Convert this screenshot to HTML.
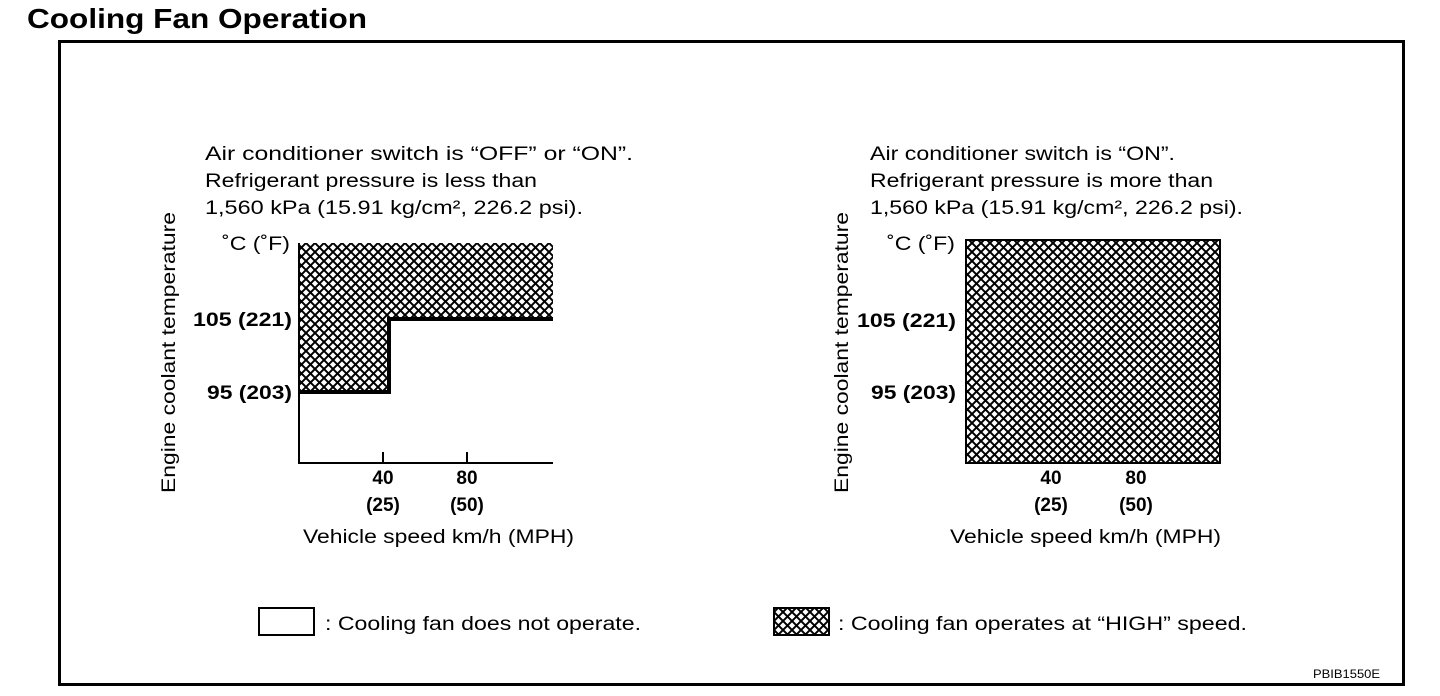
<!DOCTYPE html>
<html><head><style>
body{margin:0;background:#fff;width:1440px;height:696px;overflow:hidden}
svg{display:block}
text{font-family:"Liberation Sans",sans-serif;fill:#000}
</style></head><body>
<svg width="1440" height="696" viewBox="0 0 1440 696">
<defs>
<pattern id="h" width="9" height="9" patternUnits="userSpaceOnUse">
<rect width="9" height="9" fill="#fff"/>
<path d="M-2,2 L2,-2 M0,9 L9,0 M7,11 L11,7 M-2,7 L2,11 M0,0 L9,9 M7,-2 L11,2" stroke="#000" stroke-width="2"/>
</pattern>
</defs>
<text x="27" y="28" font-size="28" font-weight="bold" textLength="340" lengthAdjust="spacingAndGlyphs">Cooling Fan Operation</text>
<rect x="59.5" y="41.5" width="1344" height="643" fill="none" stroke="#000" stroke-width="3"/>
<g font-size="19" lengthAdjust="spacingAndGlyphs">
<text x="205" y="160" textLength="428" lengthAdjust="spacingAndGlyphs">Air conditioner switch is “OFF” or “ON”.</text>
<text x="205" y="187" textLength="332" lengthAdjust="spacingAndGlyphs">Refrigerant pressure is less than</text>
<text x="205" y="214" textLength="378" lengthAdjust="spacingAndGlyphs">1,560 kPa (15.91 kg/cm², 226.2 psi).</text>
<text x="870" y="160" textLength="305" lengthAdjust="spacingAndGlyphs">Air conditioner switch is “ON”.</text>
<text x="870" y="187" textLength="343" lengthAdjust="spacingAndGlyphs">Refrigerant pressure is more than</text>
<text x="870" y="214" textLength="373" lengthAdjust="spacingAndGlyphs">1,560 kPa (15.91 kg/cm², 226.2 psi).</text>
</g>
<path d="M299,243 L553,243 L553,319 L389,319 L389,392 L299,392 Z" fill="url(#h)"/>
<path d="M553,319 L389,319 L389,392 L299,392" fill="none" stroke="#000" stroke-width="4"/>
<path d="M299,243 L299,463 L553,463 M383,452 L383,463 M467,452 L467,463" fill="none" stroke="#000" stroke-width="2"/>
<rect x="966" y="240" width="254" height="223" fill="url(#h)"/>
<rect x="966" y="240" width="254" height="223" fill="none" stroke="#000" stroke-width="2"/>
<g font-size="19">
<text x="222" y="250" textLength="68" lengthAdjust="spacingAndGlyphs">˚C (˚F)</text>
<text x="887" y="250" textLength="68" lengthAdjust="spacingAndGlyphs">˚C (˚F)</text>
</g>
<g font-size="19" font-weight="bold">
<text x="193" y="326" textLength="99" lengthAdjust="spacingAndGlyphs">105 (221)</text>
<text x="207" y="399" textLength="85" lengthAdjust="spacingAndGlyphs">95 (203)</text>
<text x="857" y="327" textLength="99" lengthAdjust="spacingAndGlyphs">105 (221)</text>
<text x="871" y="399" textLength="85" lengthAdjust="spacingAndGlyphs">95 (203)</text>
</g>
<g font-size="19" font-weight="bold" text-anchor="middle">
<text x="383" y="484">40</text><text x="467" y="484">80</text>
<text x="383" y="511">(25)</text><text x="467" y="511">(50)</text>
<text x="1051" y="484">40</text><text x="1136" y="484">80</text>
<text x="1051" y="511">(25)</text><text x="1136" y="511">(50)</text>
</g>
<g font-size="19">
<text x="303" y="543" textLength="271" lengthAdjust="spacingAndGlyphs">Vehicle speed km/h (MPH)</text>
<text x="950" y="543" textLength="271" lengthAdjust="spacingAndGlyphs">Vehicle speed km/h (MPH)</text>
<text transform="translate(175,493) rotate(-90)" textLength="281" lengthAdjust="spacingAndGlyphs">Engine coolant temperature</text>
<text transform="translate(848,493) rotate(-90)" textLength="281" lengthAdjust="spacingAndGlyphs">Engine coolant temperature</text>
</g>
<rect x="259" y="608" width="55" height="27" fill="none" stroke="#000" stroke-width="2"/>
<rect x="774" y="608" width="55" height="27" fill="url(#h)" stroke="#000" stroke-width="2"/>
<g font-size="19">
<text x="325" y="630" textLength="316" lengthAdjust="spacingAndGlyphs">: Cooling fan does not operate.</text>
<text x="838" y="630" textLength="409" lengthAdjust="spacingAndGlyphs">: Cooling fan operates at “HIGH” speed.</text>
</g>
<text x="1313" y="678" font-size="12" textLength="67" lengthAdjust="spacingAndGlyphs">PBIB1550E</text>
</svg>
</body></html>
